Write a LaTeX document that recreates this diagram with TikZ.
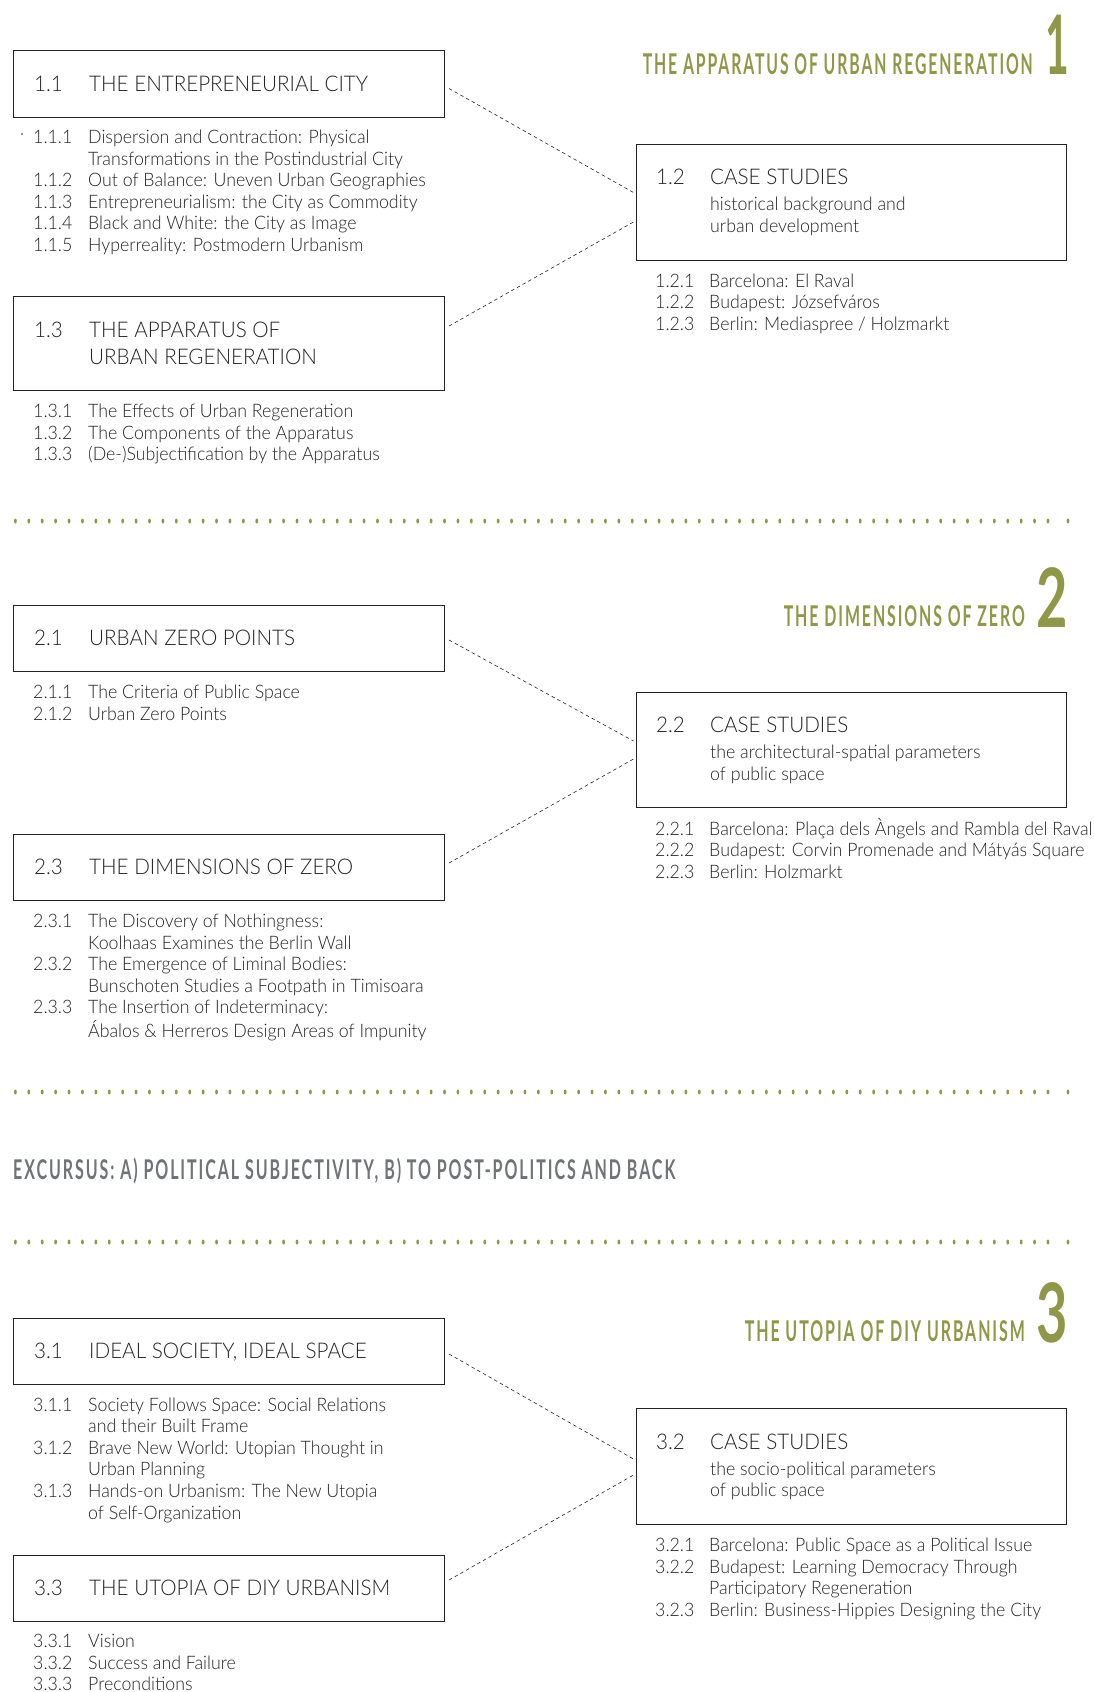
\documentclass[tikz,border=0pt]{standalone}
\usepackage{fontspec}
\setmainfont{Lato}[UprightFont=* Light, BoldFont=* Bold, FakeStretch=0.955]
\newfontfamily\hdfont{Lato}[UprightFont=* Bold, LetterSpace=12]
\newfontfamily\numfont{Lato}[UprightFont=* Bold]
\usepackage{array}
\definecolor{hdgreen}{RGB}{144,152,72}
\definecolor{exgray}{RGB}{112,115,120}
\definecolor{ink}{RGB}{35,35,35}
\newcommand\rowsL[1]{\begin{tabular}[t]{@{}p{55pt}@{}l@{}}#1\end{tabular}}
\newcommand\rowsR[1]{\begin{tabular}[t]{@{}p{54pt}@{}l@{}}#1\end{tabular}}
\newcommand\rowsS[1]{\begin{tabular}[t]{@{}l@{}}#1\end{tabular}}
\newcommand\hdtext[2]{\resizebox{#1pt}{\height}{\hdfont\fontsize{28.6}{30}\selectfont #2}}
\newcommand\bignum[2]{\scalebox{#1}[1]{\numfont\fontsize{82}{82}\selectfont #2}}
\tikzset{
  box/.style={draw=ink, line width=1.1pt, minimum width=431pt, inner sep=0pt, anchor=north west},
  title/.style={anchor=base west, inner sep=0pt, text=ink, font=\fontsize{21.6}{27}\selectfont},
  itemlist/.style={anchor=base west, inner sep=0pt, text=ink, font=\fontsize{18.6}{21.6}\selectfont},
  heading/.style={anchor=base east, inner sep=0pt, text=hdgreen},
  conn/.style={draw=ink, line width=0.6pt, dash pattern=on 3.5pt off 3pt},
  sepdot/.style={fill=hdgreen}
}
\newcommand\dotrule[1]{%
  \foreach \i in {0,...,77} {\fill[sepdot] (15.4+13.41*\i,#1) ellipse [x radius=1.4pt, y radius=2.5pt];}
  \fill[sepdot] (1068,#1) ellipse [x radius=1.4pt, y radius=2.5pt];}
\begin{document}
\begin{tikzpicture}[x=1pt,y=-1pt]
\useasboundingbox[fill=white] (0,0) rectangle (1093,1692);

% ---------------- Section 1 ----------------
\node[heading] (h1) at (1033,74) {\hdtext{390}{THE APPARATUS OF URBAN REGENERATION}};
\node[heading] (n1) at (1069,74) {\bignum{0.5}{1}};

\node[box, minimum height=67pt] (b11) at (13,50) {};
\node[title] (t11) at (34,91.3) {\makebox[55pt][l]{1.1}THE ENTREPRENEURIAL CITY};
\fill[ink] (22,134) circle (0.9pt);
\node[itemlist] (i11) at (33,143.5) {\rowsL{%
1.1.1 & Dispersion and Contraction: Physical\\
 & Transformations in the Postindustrial City\\
1.1.2 & Out of Balance: Uneven Urban Geographies\\
1.1.3 & Entrepreneurialism: the City as Commodity\\
1.1.4 & Black and White: the City as Image\\
1.1.5 & Hyperreality: Postmodern Urbanism}};

\node[box, minimum height=94pt] (b13) at (13,296) {};
\node[title] (t13) at (34,337) {\begin{tabular}[t]{@{}p{55pt}@{}l@{}}1.3 & THE APPARATUS OF\\ & URBAN REGENERATION\end{tabular}};
\node[itemlist] (i13) at (33,417.5) {\rowsL{%
1.3.1 & The Effects of Urban Regeneration\\
1.3.2 & The Components of the Apparatus\\
1.3.3 & (De-)Subjectification by the Apparatus}};

\node[box, minimum width=430.5pt, minimum height=116.5pt] (b12) at (635.5,143.5) {};
\node[title] (t12) at (656,184.5) {\makebox[54pt][l]{1.2}CASE STUDIES};
\node[itemlist] (s12) at (710,210.5) {\rowsS{historical background and\\urban development}};
\node[itemlist] (i12) at (655,287) {\rowsR{%
1.2.1 & Barcelona: El Raval\\
1.2.2 & Budapest: Józsefváros\\
1.2.3 & Berlin: Mediaspree / Holzmarkt}};

\coordinate (c11) at (449,88.5);
\coordinate (c13) at (449,326);
\coordinate (c12a) at (633.5,192.5);
\coordinate (c12b) at (633.5,222);
\draw[conn] (c11) -- (c12a);
\draw[conn] (c13) -- (c12b);

\dotrule{521}

% ---------------- Section 2 ----------------
\node[heading] (h2) at (1025,626) {\hdtext{241}{THE DIMENSIONS OF ZERO}};
\node[heading] (n2) at (1068,627) {\bignum{0.66}{2}};

\node[box, minimum height=66pt] (b21) at (13,605) {};
\node[title] (t21) at (34,645.7) {\makebox[55pt][l]{2.1}URBAN ZERO POINTS};
\node[itemlist] (i21) at (33,698.5) {\rowsL{%
2.1.1 & The Criteria of Public Space\\
2.1.2 & Urban Zero Points}};

\node[box, minimum width=430.5pt, minimum height=115pt] (b22) at (635.5,691.6) {};
\node[title] (t22) at (656,732.6) {\makebox[54pt][l]{2.2}CASE STUDIES};
\node[itemlist] (s22) at (710,758.5) {\rowsS{the architectural-spatial parameters\\of public space}};
\node[itemlist] (i22) at (655,835) {\rowsR{%
2.2.1 & Barcelona: Plaça dels Àngels and Rambla del Raval\\
2.2.2 & Budapest: Corvin Promenade and Mátyás Square\\
2.2.3 & Berlin: Holzmarkt}};

\node[box, minimum height=66pt] (b23) at (13,834) {};
\node[title] (t23) at (34,874.7) {\makebox[55pt][l]{2.3}THE DIMENSIONS OF ZERO};
\node[itemlist] (i23) at (33,927.5) {\rowsL{%
2.3.1 & The Discovery of Nothingness:\\
 & Koolhaas Examines the Berlin Wall\\
2.3.2 & The Emergence of Liminal Bodies:\\
 & Bunschoten Studies a Footpath in Timisoara\\
2.3.3 & The Insertion of Indeterminacy:\\
 & Ábalos \& Herreros Design Areas of Impunity}};

\coordinate (c21) at (449,640);
\coordinate (c23) at (449,863);
\coordinate (c22a) at (633.5,741);
\coordinate (c22b) at (633.5,759);
\draw[conn] (c21) -- (c22a);
\draw[conn] (c23) -- (c22b);

\dotrule{1092}

% ---------------- Excursus ----------------
\node[anchor=base west, inner sep=0pt, text=exgray] (ex) at (13,1179)
  {\resizebox{662pt}{\height}{\hdfont\fontsize{27.2}{30}\selectfont EXCURSUS: A) POLITICAL SUBJECTIVITY, B) TO POST-POLITICS AND BACK}};

\dotrule{1242}

% ---------------- Section 3 ----------------
\node[heading] (h3) at (1025,1341) {\hdtext{280}{THE UTOPIA OF DIY URBANISM}};
\node[heading] (n3) at (1068,1342) {\bignum{0.66}{3}};

\node[box, minimum height=66pt] (b31) at (13,1317.5) {};
\node[title] (t31) at (34,1358) {\makebox[55pt][l]{3.1}IDEAL SOCIETY, IDEAL SPACE};
\node[itemlist] (i31) at (33,1411) {\rowsL{%
3.1.1 & Society Follows Space: Social Relations\\
 & and their Built Frame\\
3.1.2 & Brave New World: Utopian Thought in\\
 & Urban Planning\\
3.1.3 & Hands-on Urbanism: The New Utopia\\
 & of Self-Organization}};

\node[box, minimum width=430.5pt, minimum height=115.5pt] (b32) at (635.5,1408) {};
\node[title] (t32) at (656,1449) {\makebox[54pt][l]{3.2}CASE STUDIES};
\node[itemlist] (s32) at (710,1475) {\rowsS{the socio-political parameters\\of public space}};
\node[itemlist] (i32) at (655,1551.5) {\rowsR{%
3.2.1 & Barcelona: Public Space as a Political Issue\\
3.2.2 & Budapest: Learning Democracy Through\\
 & Participatory Regeneration\\
3.2.3 & Berlin: Business-Hippies Designing the City}};

\node[box, minimum height=65.6pt] (b33) at (13,1555) {};
\node[title] (t33) at (34,1595.5) {\makebox[55pt][l]{3.3}THE UTOPIA OF DIY URBANISM};
\node[itemlist] (i33) at (33,1647.5) {\rowsL{%
3.3.1 & Vision\\
3.3.2 & Success and Failure\\
3.3.3 & Preconditions}};

\coordinate (c31) at (449,1354);
\coordinate (c33) at (449,1580);
\coordinate (c32a) at (633.5,1459);
\coordinate (c32b) at (633.5,1475);
\draw[conn] (c31) -- (c32a);
\draw[conn] (c33) -- (c32b);
\end{tikzpicture}
\end{document}
